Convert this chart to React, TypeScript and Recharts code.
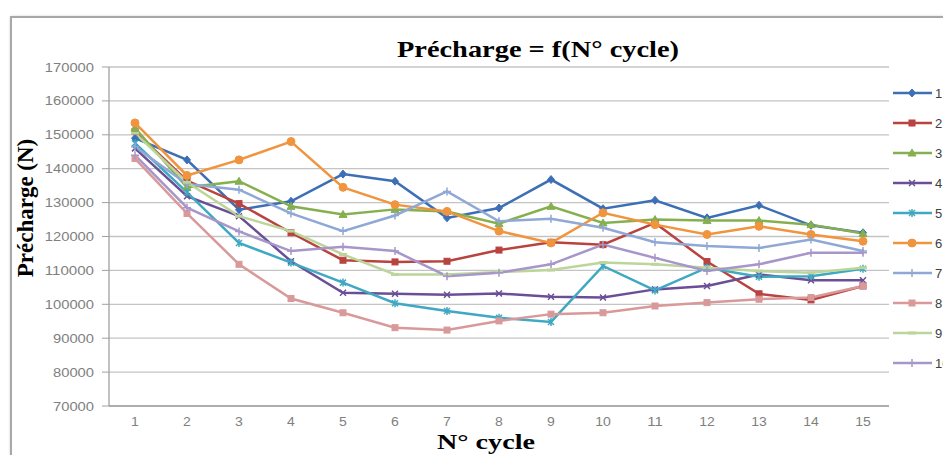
import React from 'react';
import { LineChart, Line, XAxis, YAxis, CartesianGrid } from 'recharts';

const categories = ['1', '2', '3', '4', '5', '6', '7', '8', '9', '10', '11', '12', '13', '14', '15'];
const yTicks = [70000, 80000, 90000, 100000, 110000, 120000, 130000, 140000, 150000, 160000, 170000];

const s1 = [149000, 142600, 127900, 130400, 138400, 136300, 125500, 128400, 136800, 128200, 130700, 125500, 129200, 123300, 121100];
const s2 = [151000, 136500, 129700, 121100, 113000, 112500, 112700, 116000, 118300, 117600, 124000, 112600, 103100, 101300, 105400];
const s3 = [152000, 134500, 136300, 128900, 126500, 128000, 127400, 123800, 128900, 124000, 125000, 124700, 124700, 123500, 120900];
const s4 = [146000, 131900, 126000, 112700, 103400, 103100, 102800, 103200, 102200, 102000, 104400, 105400, 108800, 107100, 107100];
const s5 = [147500, 133000, 118100, 112300, 106400, 100300, 98000, 96000, 94800, 111300, 104100, 110800, 108100, 108300, 110500];
const s6 = [153500, 138000, 142600, 148000, 134500, 129400, 127400, 121600, 118100, 127000, 123500, 120600, 123000, 120600, 118600];
const s7 = [146500, 135500, 133800, 126800, 121600, 126200, 133300, 124500, 125200, 122600, 118300, 117200, 116600, 119100, 115700];
const s8 = [143000, 126800, 111800, 101700, 97500, 93100, 92400, 95100, 97100, 97500, 99500, 100500, 101500, 102000, 105400];
const s9 = [150500, 136000, 126000, 121600, 114700, 108800, 108800, 109500, 110100, 112300, 111800, 110800, 109800, 109300, 110800];
const s10 = [144000, 128500, 121500, 115700, 117000, 115700, 108300, 109300, 111800, 117600, 113700, 109800, 111800, 115200, 115200];

const seriesNames = ['1', '2', '3', '4', '5', '6', '7', '8', '9', '10'];
const seriesValues = [s1, s2, s3, s4, s5, s6, s7, s8, s9, s10];
const seriesColors = ['#3d6fb6', '#b8433f', '#86b04f', '#6b4f96', '#3fa8c2', '#f0943e', '#8fa8d6', '#d9999a', '#bcd59a', '#a796c9'];
const seriesShapes = ['diamond', 'square', 'triangle', 'x', 'star', 'circle', 'plus', 'square', 'dash', 'plus'];

const data = categories.map((c, i) => {
  const row: any = { cycle: c };
  seriesNames.forEach((n, k) => {
    row['s' + n] = seriesValues[k][i];
  });
  return row;
});

function Marker({ cx, cy, shape, color }: any) {
  if (cx == null || cy == null) return null;
  const r = 3.5;
  switch (shape) {
    case 'diamond':
      return <path d={`M${cx},${cy - r - 0.5}L${cx + r},${cy}L${cx},${cy + r + 0.5}L${cx - r},${cy}Z`} fill={color} stroke={color} />;
    case 'square':
      return <rect x={cx - 3} y={cy - 3} width={6} height={6} fill={color} stroke={color} />;
    case 'triangle':
      return <path d={`M${cx},${cy - 4}L${cx + 4},${cy + 3}L${cx - 4},${cy + 3}Z`} fill={color} stroke={color} />;
    case 'x':
      return <path d={`M${cx - 3},${cy - 3}L${cx + 3},${cy + 3}M${cx + 3},${cy - 3}L${cx - 3},${cy + 3}`} stroke={color} strokeWidth={1.5} fill="none" />;
    case 'star':
      return <path d={`M${cx - 3},${cy - 3}L${cx + 3},${cy + 3}M${cx + 3},${cy - 3}L${cx - 3},${cy + 3}M${cx},${cy - 4}L${cx},${cy + 4}`} stroke={color} strokeWidth={1.5} fill="none" />;
    case 'circle':
      return <circle cx={cx} cy={cy} r={4} fill={color} stroke={color} />;
    case 'plus':
      return <path d={`M${cx - 4},${cy}L${cx + 4},${cy}M${cx},${cy - 4}L${cx},${cy + 4}`} stroke={color} strokeWidth={1.5} fill="none" />;
    case 'dash':
      return <rect x={cx - 4} y={cy - 1.5} width={8} height={3} fill={color} />;
    default:
      return null;
  }
}

function YTick(props: any) {
  const { x, y, payload } = props;
  const s = String(payload.value);
  return (
    <text x={x} y={y} textAnchor="end" dominantBaseline="central" fill="#7f7f7f" fontSize={13}
      fontFamily="'Liberation Sans', Arial, sans-serif" textLength={s.length * 8.2} lengthAdjust="spacingAndGlyphs">
      {s}
    </text>
  );
}

function XTick(props: any) {
  const { x, y, payload } = props;
  const s = String(payload.value);
  return (
    <text x={x} y={y + 16} textAnchor="middle" dominantBaseline="central" fill="#7f7f7f" fontSize={12.5}
      fontFamily="'Liberation Sans', Arial, sans-serif" textLength={s.length * 7.8} lengthAdjust="spacingAndGlyphs">
      {s}
    </text>
  );
}

export default function App() {
  const serif = "'Liberation Serif', 'Times New Roman', serif";
  return (
    <div style={{ position: 'relative', width: 943, height: 447, overflow: 'hidden', background: '#fff' }}>
      <div style={{ position: 'absolute', left: 2, top: 8, width: 1000, height: 1000, border: '2px solid #a8a8a8', boxShadow: '1px 1px 3px rgba(0,0,0,0.35)' }} />
      <div style={{ position: 'absolute', left: 0, top: 0 }}>
        <LineChart width={943} height={440} data={data} margin={{ top: 59, right: 62, bottom: 0, left: 0 }}>
          <CartesianGrid vertical={false} stroke="#c4c4c4" strokeWidth={1.3} />
          <XAxis dataKey="cycle" padding={{ left: 26, right: 26 }} height={42} tickLine={false} tickSize={0} tickMargin={0}
            axisLine={{ stroke: '#a0a0a0', strokeWidth: 1.3 }} tick={<XTick />} interval={0} />
          <YAxis domain={[70000, 170000]} ticks={yTicks} width={101} tickSize={7} tickMargin={8}
            axisLine={{ stroke: '#a0a0a0', strokeWidth: 1.3 }} tickLine={{ stroke: '#a0a0a0' }} tick={<YTick />} interval={0} />
          {seriesNames.map((n, k) => (
            <Line key={n} dataKey={'s' + n} name={n} stroke={seriesColors[k]} strokeWidth={2.5} isAnimationActive={false}
              dot={(p: any) => <Marker key={n + '-' + p.index} cx={p.cx} cy={p.cy} shape={seriesShapes[k]} color={seriesColors[k]} />}
              activeDot={false} />
          ))}
        </LineChart>
      </div>
      <svg width={943} height={447} style={{ position: 'absolute', left: 0, top: 0, pointerEvents: 'none' }}>
        <text x={530} y={49} textAnchor="middle" fontFamily={serif} fontWeight="bold" fontSize={23} fill="#000"
          textLength={282} lengthAdjust="spacingAndGlyphs">Précharge = f(N° cycle)</text>
        <text x={478} y={441} textAnchor="middle" fontFamily={serif} fontWeight="bold" fontSize={21} fill="#000"
          textLength={98} lengthAdjust="spacingAndGlyphs">N° cycle</text>
        <text transform="translate(17,200) rotate(-90)" textAnchor="middle" dominantBaseline="central" fontFamily={serif}
          fontWeight="bold" fontSize={23} fill="#000">Précharge (N)</text>
        {seriesNames.map((n, k) => {
          const cy = 85 + k * 30;
          return (
            <g key={n}>
              <line x1={885} x2={924} y1={cy} y2={cy} stroke={seriesColors[k]} strokeWidth={2.5} />
              <Marker cx={904} cy={cy} shape={seriesShapes[k]} color={seriesColors[k]} />
              <text x={927} y={cy} dominantBaseline="central" fontSize={13} fill="#404040"
                fontFamily="'Liberation Sans', Arial, sans-serif">{n}</text>
            </g>
          );
        })}
      </svg>
    </div>
  );
}
